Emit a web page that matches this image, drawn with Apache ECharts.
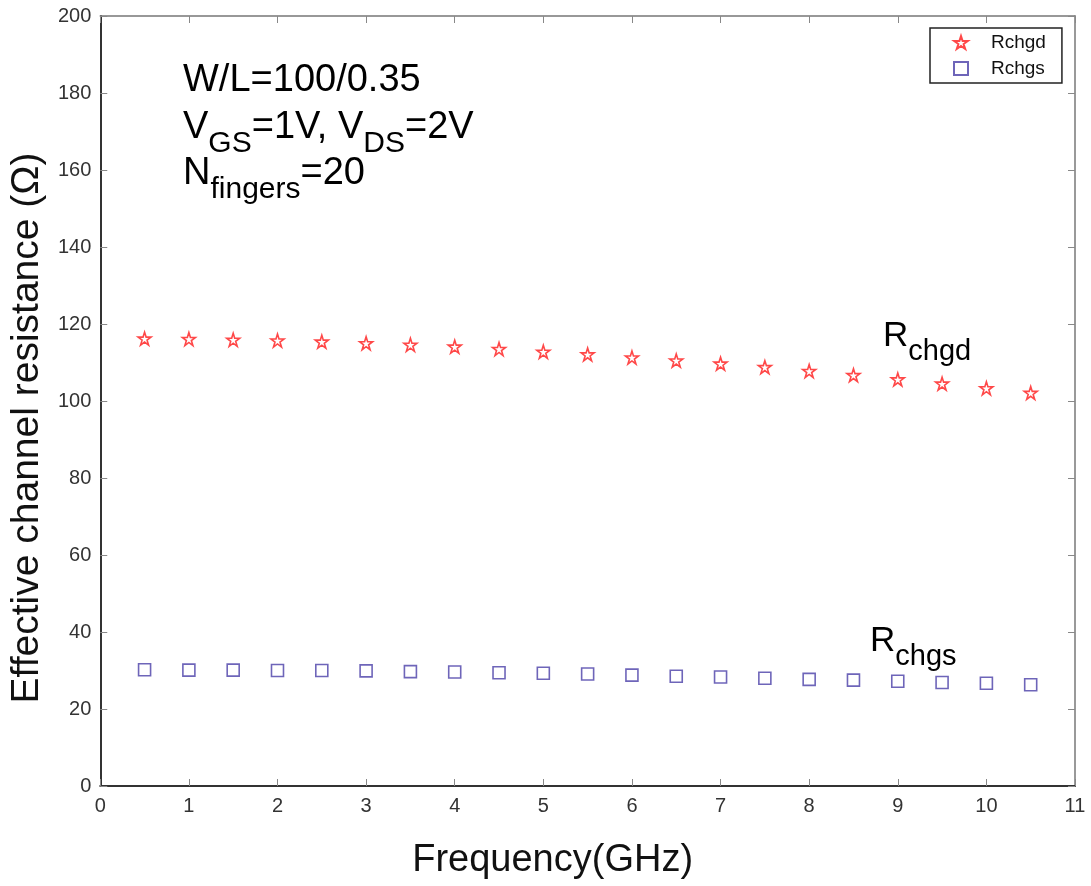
<!DOCTYPE html>
<html>
<head>
<meta charset="utf-8">
<script src="https://cdn.jsdelivr.net/npm/echarts@6/dist/echarts.min.js"></script>
<style>
  html, body { margin: 0; padding: 0; background: #fff; }
  #chart { width: 1091px; height: 886px; }
</style>
</head>
<body>
<div id="chart"></div>
<script>
// Frequency sweep (GHz)
const freq = [0.5, 1, 1.5, 2, 2.5, 3, 3.5, 4, 4.5, 5, 5.5, 6, 6.5, 7, 7.5, 8, 8.5, 9, 9.5, 10, 10.5];
// Effective channel resistance, gate-drain side (Ohm)
const rchgd = [116.2, 116.1, 115.9, 115.7, 115.4, 115.0, 114.6, 114.1, 113.5, 112.8, 112.1, 111.3, 110.5, 109.7, 108.8, 107.8, 106.7, 105.6, 104.5, 103.3, 102.1];
// Effective channel resistance, gate-source side (Ohm)
const rchgs = [30.2, 30.1, 30.1, 30.0, 30.0, 29.9, 29.7, 29.6, 29.4, 29.3, 29.1, 28.8, 28.5, 28.3, 28.0, 27.7, 27.5, 27.2, 26.9, 26.7, 26.3];
const seriesNames = ['Rchgd', 'Rchgs'];

const FONT = '"Liberation Sans", Arial, Helvetica, sans-serif';
const RED = '#ff1a1a';
const BLUE = '#4a3fa8';
const STAR = 'path://M50,0 L61.2,34.5 L97.6,34.5 L68.2,55.9 L79.4,90.5 L50,69.1 L20.6,90.5 L31.8,55.9 L2.4,34.5 L38.8,34.5 Z';

const pairs = (xs, ys) => xs.map((x, i) => [x, ys[i]]);

const chart = echarts.init(document.getElementById('chart'), null, { renderer: 'canvas' });

const tickLabel = { fontFamily: FONT, fontSize: 20, color: '#333' };

// Text block whose main glyphs are vertically centred on y; subscripts sit lower
function label(x, y, text, mainSize, subSize) {
  return {
    type: 'text',
    x: x, y: y,
    style: {
      text: text,
      align: 'left',
      verticalAlign: 'middle',
      rich: {
        m: { fontFamily: FONT, fontSize: mainSize, color: '#111' },
        s: { fontFamily: FONT, fontSize: subSize, color: '#111', padding: [31, 0, 0, 0] }
      }
    }
  };
}

chart.setOption({
  animation: false,
  backgroundColor: '#fff',
  grid: { left: 100, right: 16, top: 16, bottom: 100, containLabel: false },
  legend: {
    data: seriesNames,
    orient: 'vertical',
    left: 930, top: 28,
    padding: [5, 16, 5, 23],
    itemGap: 7,
    itemWidth: 14, itemHeight: 13,
    borderColor: '#222', borderWidth: 1.5,
    backgroundColor: '#fff',
    textStyle: { fontFamily: FONT, fontSize: 19, color: '#111', padding: [0, 0, 0, 18] }
  },
  xAxis: [{
    type: 'value', min: 0, max: 11, interval: 1,
    name: 'Frequency(GHz)', nameLocation: 'middle', nameGap: 56,
    nameTextStyle: { fontFamily: FONT, fontSize: 38, color: '#111', padding: [0, 70, 0, 0] },
    axisLine: { show: true, onZero: false, lineStyle: { color: '#333', width: 2 } },
    axisTick: { show: true, inside: true, length: 7, lineStyle: { color: '#888' } },
    axisLabel: Object.assign({ margin: 10 }, tickLabel),
    splitLine: { show: false }
  }, {
    type: 'value', min: 0, max: 11, interval: 1, position: 'top',
    axisLine: { show: true, onZero: false, lineStyle: { color: '#777', width: 1.5 } },
    axisTick: { show: true, inside: true, length: 7, lineStyle: { color: '#888' } },
    axisLabel: { show: false },
    splitLine: { show: false }
  }],
  yAxis: [{
    type: 'value', min: 0, max: 200, interval: 20,
    name: 'Effective channel resistance (\u03A9)', nameLocation: 'middle', nameGap: 52,
    nameTextStyle: { fontFamily: FONT, fontSize: 39, color: '#111', padding: [0, 54, 0, 0] },
    axisLine: { show: true, onZero: false, lineStyle: { color: '#333', width: 2 } },
    axisTick: { show: true, inside: true, length: 7, lineStyle: { color: '#888' } },
    axisLabel: Object.assign({ margin: 9 }, tickLabel),
    splitLine: { show: false }
  }, {
    type: 'value', min: 0, max: 200, interval: 20, position: 'right',
    axisLine: { show: true, onZero: false, lineStyle: { color: '#777', width: 1.5 } },
    axisTick: { show: true, inside: true, length: 7, lineStyle: { color: '#888' } },
    axisLabel: { show: false },
    splitLine: { show: false }
  }],
  series: [{
    name: seriesNames[0],
    type: 'scatter',
    symbol: STAR,
    symbolSize: 13,
    itemStyle: { color: '#fff', borderColor: RED, borderWidth: 1.6 },
    data: pairs(freq, rchgd)
  }, {
    name: seriesNames[1],
    type: 'scatter',
    symbol: 'rect',
    symbolSize: 12,
    itemStyle: { color: '#fff', borderColor: BLUE, borderWidth: 1.6 },
    data: pairs(freq, rchgs)
  }],
  graphic: [
    label(183, 81, '{m|W/L=100/0.35}', 38, 30),
    label(183, 128, '{m|V}{s|GS}{m|=1V, V}{s|DS}{m|=2V}', 38, 30),
    label(183, 174, '{m|N}{s|fingers}{m|=20}', 38, 30),
    label(883, 336, '{m|R}{s|chgd}', 35, 29),
    label(870, 641, '{m|R}{s|chgs}', 35, 29)
  ]
});
</script>
</body>
</html>
